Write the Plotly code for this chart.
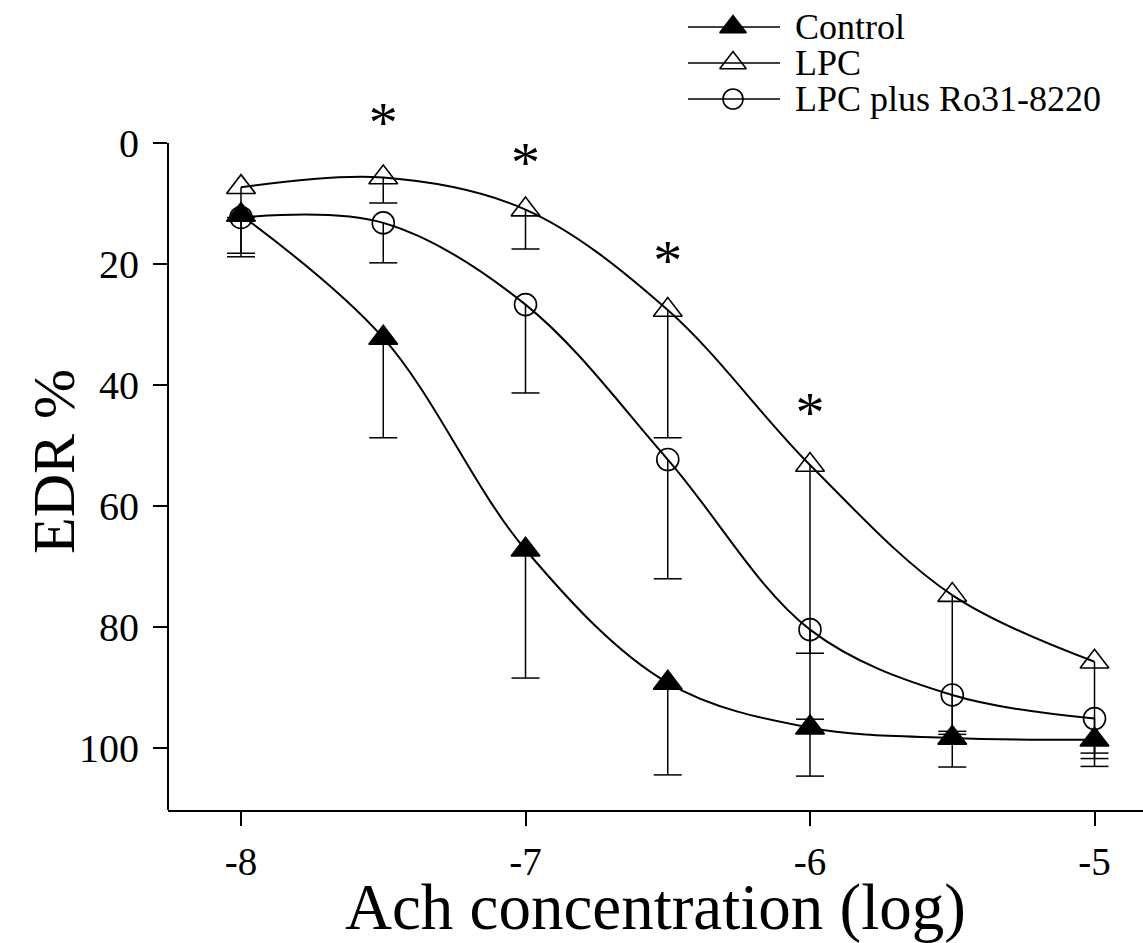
import plotly.graph_objects as go

# ---- data ----
log_conc = [-8, -7.5, -7, -6.5, -6, -5.5, -5]

control = [11.9, 32.2, 67.2, 89.2, 96.6, 98.3, 98.6]
control_err = [6.9, 16.5, 21.2, 15.2, 8.0, 4.8, 4.4]

lpc = [7.3, 5.7, 11.0, 27.6, 53.2, 74.7, 85.7]
lpc_err = [5.0, 4.2, 6.5, 21.1, 42.0, 23.0, 15.1]

ro = [12.3, 13.2, 26.7, 52.3, 80.4, 91.2, 95.1]
ro_err = [5.9, 6.6, 14.6, 19.7, 3.9, 6.0, 6.6]

star_x = [-7.5, -7, -6.5, -6]
star_y = [-2.6, 4.0, 20.2, 45.3]

y_ticks = [0, 20, 40, 60, 80, 100]
x_ticks = [-8, -7, -6, -5]

series_names = ["Control", "LPC", "LPC plus Ro31-8220"]

FONT = "Liberation Serif"
W, H = 1143, 943
ML, MB = 168, 133
PLOT_H = H - MB          # plot area height (margin top = 0)
Y_TOP, Y_BOT = -9.0, 110.2
PX_PER_UNIT = (810 - 143) / Y_BOT
TOP_PX = 143 + Y_TOP * PX_PER_UNIT   # pixel of the top of the y range

fig = go.Figure()

styles = [
    (control, control_err, "triangle-up", 25),
    (lpc, lpc_err, "triangle-up-open", 25),
    (ro, ro_err, "circle-open", 22),
]

for (vals, errs, sym, size), name in zip(styles, series_names):
    fig.add_trace(go.Scatter(
        x=log_conc, y=vals, mode="lines+markers", name=name,
        line=dict(color="black", width=2, shape="spline", smoothing=1.0),
        marker=dict(symbol=sym, size=size, color="black",
                    line=dict(color="black", width=1.6)),
        error_y=dict(type="data", symmetric=False, array=errs,
                     arrayminus=[0] * len(errs), width=0,
                     thickness=1.5, color="black"),
        showlegend=False,
    ))
    # caps of the one-sided error bars
    fig.add_trace(go.Scatter(
        x=log_conc, y=[v + e for v, e in zip(vals, errs)], mode="markers",
        marker=dict(symbol="line-ew", size=20,
                    line=dict(color="black", width=1.5)),
        showlegend=False, hoverinfo="skip",
    ))

# significance asterisks
fig.add_trace(go.Scatter(
    x=star_x, y=star_y, mode="text", text=["*"] * len(star_x),
    textposition="middle center",
    textfont=dict(family=FONT, size=58, color="black"),
    showlegend=False, cliponaxis=False,
))

# ---- custom legend on a separate axis pair in pixel units ----
leg_rows = [27, 63, 99]
leg_x0, leg_x1, leg_mid, leg_text_x = 688, 780, 733, 793
for (vals, errs, sym, size), name, ry in zip(styles, series_names, leg_rows):
    fig.add_trace(go.Scatter(
        x=[leg_x0, leg_x1], y=[ry, ry], mode="lines",
        line=dict(color="black", width=1.6),
        xaxis="x2", yaxis="y2", showlegend=False, hoverinfo="skip",
    ))
    fig.add_trace(go.Scatter(
        x=[leg_mid], y=[ry], mode="markers",
        marker=dict(symbol=sym, size=size - 2, color="black",
                    line=dict(color="black", width=1.6)),
        xaxis="x2", yaxis="y2", showlegend=False, hoverinfo="skip",
    ))
    fig.add_annotation(
        x=leg_text_x, y=ry, xref="x2", yref="y2", text=name,
        showarrow=False, xanchor="left", yanchor="middle",
        font=dict(family=FONT, size=36, color="black"),
    )

# y title as annotation for exact placement
fig.add_annotation(
    x=(54 - ML) / (W - ML), y=(PLOT_H - 462) / PLOT_H,
    xref="paper", yref="paper", text="EDR %", textangle=-90,
    showarrow=False, xanchor="center", yanchor="middle",
    font=dict(family=FONT, size=60, color="black"),
)

# left axis line only from 0 to the bottom of the range
fig.add_shape(type="line", xref="paper", yref="y", x0=0, x1=0,
              y0=0, y1=Y_BOT, line=dict(color="black", width=2))

y_dom_top = (PLOT_H - TOP_PX) / PLOT_H

fig.update_layout(
    width=W, height=H,
    margin=dict(l=ML, r=0, t=0, b=MB, pad=0, autoexpand=False),
    paper_bgcolor="white", plot_bgcolor="rgba(0,0,0,0)",
    font=dict(family=FONT, color="black"),
    xaxis=dict(
        range=[-8.2566, -4.8296], tickvals=x_ticks,
        ticktext=[str(t) for t in x_ticks],
        showgrid=False, zeroline=False, showline=True,
        linecolor="black", linewidth=2, mirror=False,
        ticks="outside", ticklen=14, tickwidth=1.5, tickcolor="black",
        tickfont=dict(family=FONT, size=39, color="black"),
        ticklabelstandoff=2,
        title=dict(text="Ach concentration (log)",
                   font=dict(family=FONT, size=65, color="black"),
                   standoff=0),
        anchor="y", automargin=False,
    ),
    yaxis=dict(
        range=[Y_BOT, Y_TOP], tickvals=y_ticks,
        showgrid=False, zeroline=False, showline=False,
        ticks="outside", ticklen=14, tickwidth=1.5, tickcolor="black",
        tickfont=dict(family=FONT, size=40, color="black"),
        ticklabelstandoff=6,
        domain=[0, y_dom_top], anchor="x", automargin=False,
    ),
    xaxis2=dict(range=[ML, W], domain=[0, 1], visible=False,
                anchor="y2", fixedrange=True),
    yaxis2=dict(range=[PLOT_H, 0], domain=[0, 1], visible=False,
                anchor="x2", fixedrange=True),
)

fig.write_html("out.html")
